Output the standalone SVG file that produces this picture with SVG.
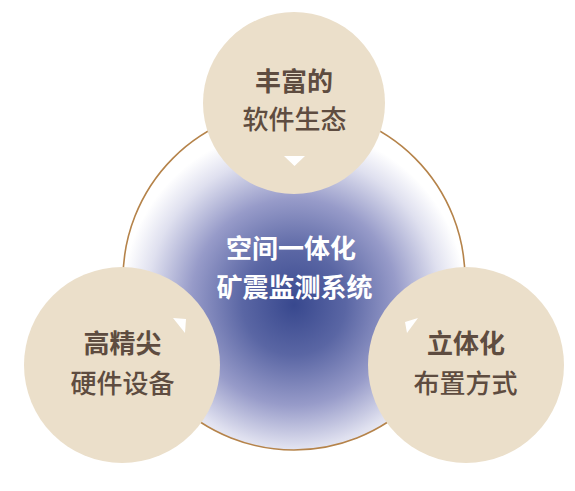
<svg xmlns="http://www.w3.org/2000/svg" width="575" height="491" viewBox="0 0 575 491">
  <defs>
    <radialGradient id="core" gradientUnits="userSpaceOnUse" cx="294" cy="300" r="172" fx="294" fy="305">
      <stop offset="0" stop-color="#38488e"/>
      <stop offset="0.3" stop-color="#5a66a4"/>
      <stop offset="0.6" stop-color="#979bc9"/>
      <stop offset="0.85" stop-color="#dfe0ef"/>
      <stop offset="1" stop-color="#ffffff"/>
    </radialGradient>
    <style>
      .bub { fill: #ebdfca; }
      .t1 { font-family: "Noto Sans CJK SC", "Noto Sans", sans-serif; font-size: 26px; font-weight: 700; fill: #5e4c40; text-anchor: middle; }
      .t2 { font-family: "Noto Sans CJK SC", "Noto Sans", sans-serif; font-size: 26px; font-weight: 500; fill: #5e4c40; text-anchor: middle; }
      .tc { font-family: "Noto Sans CJK SC", "Noto Sans", sans-serif; font-size: 26px; font-weight: 700; fill: #ffffff; text-anchor: middle; }
      .tri { fill: #ffffff; }
    </style>
  </defs>
  <rect width="575" height="491" fill="#ffffff"/>

  <g id="core-node">
    <circle cx="294" cy="279" r="171" fill="url(#core)" stroke="#b5834a" stroke-width="1.6"/>
    <text class="tc" x="291" y="258">空间一体化</text>
    <text class="tc" x="294.5" y="297">矿震监测系统</text>
  </g>

  <g id="connectors"></g>

  <g id="node-software">
    <circle class="bub" cx="294" cy="103" r="91"/>
    <text class="t1" x="294" y="91">丰富的</text>
    <text class="t2" x="294.5" y="129">软件生态</text>
    <polygon class="tri" points="284,156 305,156 294.5,166"/>
  </g>

  <g id="node-hardware">
    <circle class="bub" cx="122" cy="365" r="98"/>
    <text class="t1" x="122.5" y="353">高精尖</text>
    <text class="t2" x="122.5" y="393">硬件设备</text>
    <polygon class="tri" points="173,318 186,319 185,333"/>
  </g>

  <g id="node-layout">
    <circle class="bub" cx="466" cy="365" r="98"/>
    <text class="t1" x="466" y="353">立体化</text>
    <text class="t2" x="465.5" y="393">布置方式</text>
    <polygon class="tri" points="418,318 405,322 407,333"/>
  </g>
</svg>
